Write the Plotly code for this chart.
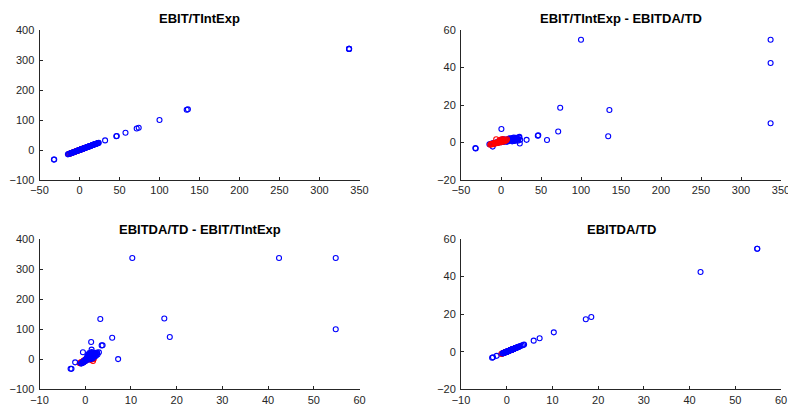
import plotly.graph_objects as go

# ---------------- data ----------------
# Group 1 (blue): EBIT/TIntExp and EBITDA/TD for each observation
ebit_blue = [-32.0, -31.6, 0.5, -14.5, -10.4, 23.0, 23.5, 32.0, 46.0, 46.6, 57.5, 71.5, 74.0,
             100.0, 134.0, 135.5, 337.0, 337.0, 337.0,
             -13.0, -11.5, -10.0, -9.0, -8.0, -7.0, -6.0, -5.0, -4.0, -3.0, -2.0, -1.0,
             0.0, 0.8, 1.5, 2.2, 3.0, 3.8, 4.5, 5.2, 6.0, 6.8, 7.5, 8.2, 9.0, 9.8,
             10.5, 11.2, 12.0, 12.8, 13.5, 14.2, 15.0, 15.8, 16.5, 17.2, 18.0, 18.8,
             19.5, 20.2, 21.0, 21.8, 22.5, 24.0, 2.0, 5.0, 8.0, 11.0, 14.0, 17.0, 20.0,
             -0.5, 1.0, 3.5, 6.5, 9.5, 12.5, 16.0]
ebitda_blue = [-3.0, -3.2, 7.2, -0.9, -2.2, 3.0, -0.5, 1.4, 3.6, 3.8, 1.3, 5.9, 18.5,
               54.8, 3.3, 17.3, 54.8, 42.4, 10.3,
               -0.8, -0.5, -0.6, -0.3, -0.4, -0.1, 0.0, 0.1, -0.2, 0.2, 0.3, 0.1,
               0.4, 0.2, 0.5, 0.6, 0.3, 0.8, 0.7, 1.0, 0.9, 1.2, 0.6, 1.4, 1.1, 1.6,
               0.9, 1.8, 1.3, 2.0, 1.0, 2.4, 1.5, 2.1, 0.8, 1.9, 1.2, 2.5,
               1.6, 2.2, 0.9, 1.7, 2.6, 1.4, 1.1, 1.5, 0.5, 2.3, 0.6, 1.0, 1.3,
               0.9, 1.3, 1.7, 0.4, 2.0, 1.8, 2.7]

# Group 2 (red)
ebit_red = [-13.5, -12.5, -11.5, -10.5, -9.5, -8.5, -7.5, -6.5, -5.5, -4.5, -3.5, -2.5,
            -1.5, -0.5, 0.5, 1.5, 2.5, 3.5, 4.5, 5.5, 6.5, 7.5, -2.0, 0.0, 2.0, -6.0]
ebitda_red = [-1.2, -0.8, -1.0, -0.5, -0.9, -0.3, -0.6, -0.1, -0.4, 0.1, -0.2, 0.3,
              0.0, 0.5, 0.2, 0.8, 0.4, 1.1, 0.7, 1.4, 1.0, 1.7, 1.2, 1.6, 1.9, 1.7]

titles = ["EBIT/TIntExp", "EBIT/TIntExp - EBITDA/TD", "EBITDA/TD - EBIT/TIntExp", "EBITDA/TD"]

ebit_range, ebit_dtick = [-50, 350], 50
ebitda_range, ebitda_dtick = [-20, 60], 20
ebitda_xrange, ebitda_xdtick = [-10, 60], 10
ebit_yrange, ebit_ydtick = [-100, 400], 100

# ---------------- figure ----------------
W, H = 788, 407
AX = "#262626"
FONT = "Liberation Sans, Arial, Helvetica, sans-serif"

fig = go.Figure()

panels = [
    # (axis idx, x_blue, y_blue, x_red, y_red, red_on_top)
    (1, ebit_blue, ebit_blue, ebit_red, ebit_red, False),
    (2, ebit_blue, ebitda_blue, ebit_red, ebitda_red, True),
    (3, ebitda_blue, ebit_blue, ebitda_red, ebit_red, False),
    (4, ebitda_blue, ebitda_blue, ebitda_red, ebitda_red, False),
]

def mk(x, y, color, i):
    sfx = "" if i == 1 else str(i)
    return go.Scatter(x=x, y=y, mode="markers", xaxis="x" + sfx, yaxis="y" + sfx,
                      marker=dict(symbol="circle-open", size=5, color=color,
                                  line=dict(width=1.1, color=color)),
                      showlegend=False, hoverinfo="x+y")

for i, xb, yb, xr, yr, red_top in panels:
    if red_top:
        fig.add_trace(mk(xb, yb, "#0000ff", i))
        fig.add_trace(mk(xr, yr, "#ff0000", i))
    else:
        fig.add_trace(mk(xr, yr, "#ff0000", i))
        fig.add_trace(mk(xb, yb, "#0000ff", i))

xdom_l = [39.5 / W, 359.5 / W]
xdom_r = [461 / W, 781 / W]
ydom_t = [(H - 180) / H, (H - 30) / H]
ydom_b = [(H - 389.3) / H, (H - 239) / H]

def axis(domain, rng, dtick, anchor, is_y):
    d = dict(domain=domain, range=rng, dtick=dtick, tick0=0, anchor=anchor,
             showline=True, linecolor=AX, linewidth=1, ticks="inside", ticklen=3,
             tickcolor=AX, tickwidth=1, showgrid=False, zeroline=False,
             automargin=False, ticklabeloverflow="allow",
             tickfont=dict(family=FONT, size=11, color=AX), fixedrange=True)
    if is_y:
        d["ticklabelstandoff"] = 2
    return d

fig.update_layout(
    width=W, height=H, margin=dict(l=0, r=0, t=0, b=0, autoexpand=False),
    paper_bgcolor="white", plot_bgcolor="white",
    xaxis=axis(xdom_l, ebit_range, ebit_dtick, "y", False),
    yaxis=axis(ydom_t, ebit_yrange, ebit_ydtick, "x", True),
    xaxis2=axis(xdom_r, ebit_range, ebit_dtick, "y2", False),
    yaxis2=axis(ydom_t, ebitda_range, ebitda_dtick, "x2", True),
    xaxis3=axis(xdom_l, ebitda_xrange, ebitda_xdtick, "y3", False),
    yaxis3=axis(ydom_b, ebit_yrange, ebit_ydtick, "x3", True),
    xaxis4=axis(xdom_r, ebitda_xrange, ebitda_xdtick, "y4", False),
    yaxis4=axis(ydom_b, ebitda_range, ebitda_dtick, "x4", True),
)

title_pos = [
    (sum(xdom_l) / 2, 1 - 18 / H),
    (sum(xdom_r) / 2, 1 - 18 / H),
    (sum(xdom_l) / 2, 1 - 229 / H),
    (sum(xdom_r) / 2, 1 - 229 / H),
]
for t, (x, y) in zip(titles, title_pos):
    fig.add_annotation(text="<b>" + t + "</b>", x=x, y=y, xref="paper", yref="paper",
                       xanchor="center", yanchor="middle", showarrow=False,
                       font=dict(family=FONT, size=13, color="black"))

fig.write_html("out.html", config={"displayModeBar": False},
               post_script="document.body.style.margin='0';document.body.style.overflow='hidden';")
